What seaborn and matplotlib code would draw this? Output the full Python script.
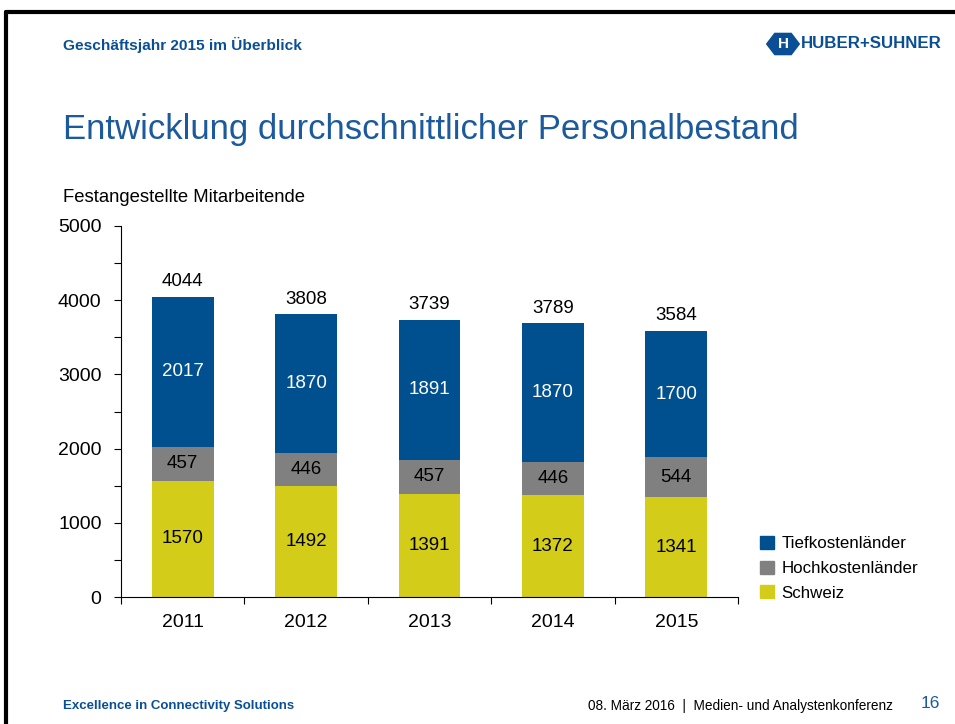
import numpy as np
import matplotlib.pyplot as plt
import seaborn as sns
from matplotlib.patches import Patch, RegularPolygon
from matplotlib.lines import Line2D

years = ['2011', '2012', '2013', '2014', '2015']
schweiz = [1570, 1492, 1391, 1372, 1341]
hochkosten = [457, 446, 457, 446, 544]
tiefkosten = [2017, 1870, 1891, 1870, 1700]
totals = [4044, 3808, 3739, 3789, 3584]

blue = '#00508f'
gray = '#808080'
yellow = '#d3cd19'
text_blue = '#1b5a9c'

sns.set_theme(style='white')
plt.rcParams['font.family'] = ['Liberation Sans', 'DejaVu Sans']
plt.rcParams['text.color'] = 'black'
plt.rcParams['xtick.color'] = 'black'
plt.rcParams['ytick.color'] = 'black'

fig = plt.figure(figsize=(9.55, 7.24), dpi=100)
ax = fig.add_axes([121/955, 1-597/724, 617/955, 371/724])

s = np.array(schweiz)
h = np.array(hochkosten)
t = np.array(tiefkosten)

# stacked by layering cumulative sums
sns.barplot(x=years, y=s + h + t, color=blue, width=0.5, saturation=1, linewidth=0, ax=ax)
sns.barplot(x=years, y=s + h, color=gray, width=0.5, saturation=1, linewidth=0, ax=ax)
sns.barplot(x=years, y=s, color=yellow, width=0.5, saturation=1, linewidth=0, ax=ax)

for i in range(len(years)):
    ax.text(i, s[i] / 2, str(schweiz[i]), ha='center', va='center', fontsize=13.5, color='black')
    ax.text(i, s[i] + h[i] / 2, str(hochkosten[i]), ha='center', va='center', fontsize=13.5, color='black')
    ax.text(i, s[i] + h[i] + t[i] / 2, str(tiefkosten[i]), ha='center', va='center', fontsize=13.5, color='white')
    ax.text(i, s[i] + h[i] + t[i] + 90, str(totals[i]), ha='center', va='bottom', fontsize=13.5, color='black')

ax.set_xlim(-0.5, 4.5)
ax.set_ylim(0, 5000)
ax.set_yticks(range(0, 5001, 1000))
ax.set_yticks(range(500, 5000, 1000), minor=True)
ax.set_xticks(np.arange(-0.5, 5, 1), minor=True)
ax.tick_params(axis='y', which='both', left=True, length=5, width=0.8, color='black',
               labelsize=14, pad=9)
ax.tick_params(axis='x', which='major', bottom=False, labelsize=14, pad=6)
ax.tick_params(axis='x', which='minor', bottom=True, length=5, width=0.8, color='black')
for sp in ['top', 'right']:
    ax.spines[sp].set_visible(False)
for sp in ['left', 'bottom']:
    ax.spines[sp].set_color('black')
    ax.spines[sp].set_linewidth(0.8)
ax.set_xlabel('')
ax.set_ylabel('')

handles = [Patch(color=blue), Patch(color=gray), Patch(color=yellow)]
fig.legend(handles, ['Tiefkostenländer', 'Hochkostenländer', 'Schweiz'],
           loc='upper left', bbox_to_anchor=(760/955, 1-536/724), frameon=False,
           fontsize=12.2, handlelength=0.8, handleheight=0.8, handletextpad=0.45,
           labelspacing=0.55, borderpad=0, borderaxespad=0)

# slide decoration
fig.add_artist(Line2D([6/955, 1], [1-12/724, 1-12/724], color='black', lw=3))
fig.add_artist(Line2D([6/955, 6/955], [0, 1-12/724], color='black', lw=3))

fig.text(63/955, 1-45/724, 'Geschäftsjahr 2015 im Überblick', fontsize=11.1, fontweight='bold',
         color='#0a4f96', va='center')
fig.text(63/955, 1-130/724, 'Entwicklung durchschnittlicher Personalbestand', fontsize=25,
         color=text_blue, va='center')
fig.text(63/955, 1-197/724, 'Festangestellte Mitarbeitende', fontsize=13.3, va='center')
fig.text(63/955, 1-706/724, 'Excellence in Connectivity Solutions', fontsize=9.5,
         fontweight='bold', color='#0a4f96', va='center')
fig.text(893/955, 1-706/724, '08. März 2016  |  Medien- und Analystenkonferenz', fontsize=9.8,
         ha='right', va='center')
fig.text(940/955, 1-704/724, '16', fontsize=12.5, color=text_blue, ha='right', va='center')

# logo
fig.add_artist(RegularPolygon((783/955, 1-44/724), numVertices=6, radius=0.018,
                              orientation=np.pi/6, transform=fig.transFigure,
                              facecolor='#0a4f96', edgecolor='none'))
fig.text(783/955, 1-44/724, 'H', fontsize=11, fontweight='bold', color='white',
         ha='center', va='center')
fig.text(801/955, 1-44/724, 'HUBER+SUHNER', fontsize=12.2, fontweight='bold',
         color='#0a4f96', va='center')

fig.savefig('out.png', dpi=100, facecolor='white')
